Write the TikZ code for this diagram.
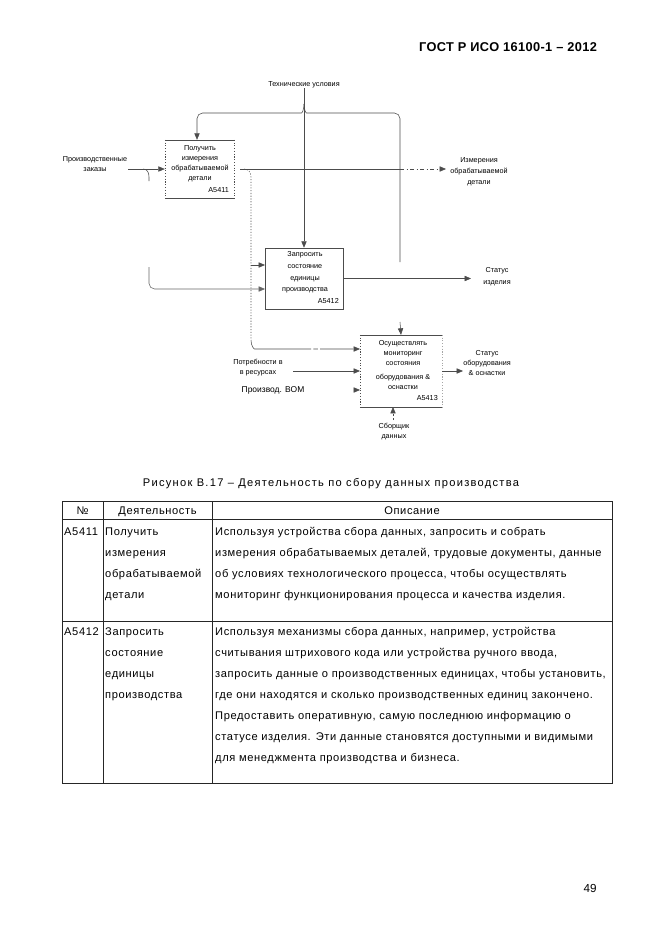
\documentclass[tikz,border=0pt]{standalone}
\usepackage{fontspec}
\setmainfont{Liberation Sans}
\usetikzlibrary{arrows.meta}
\begin{document}
\begin{tikzpicture}[x=0.9pt,y=-0.9pt]
            \tikzset{
              every node/.style={inner sep=0pt},
              lbl/.style={font=\fontsize{6.5}{9}\selectfont, align=center},
              ln/.style={draw=black!70, line width=0.5pt},
              tnl/.style={ln, dash pattern=on 1pt off 1.5pt},
              arr/.style={ln, rounded corners=5pt, -{Triangle[length=5.8pt,width=4.8pt]}},
              cell/.style={font=\fontsize{10}{12}\selectfont\addfontfeature{LetterSpace=5.5}, anchor=base west},
              grid/.style={draw=black!85, line width=0.7pt}
            }
            \useasboundingbox (0,0) rectangle (661,935);
            \node (hdr) [font=\fontsize{11.5}{13}\bfseries\addfontfeature{LetterSpace=3}] at (508,47) {ГОСТ Р ИСО 16100-1 – 2012};
            \node (pg) [font=\fontsize{10.5}{12}\selectfont] at (590,888) {49};
            \node (b1) [minimum width=62.1pt, minimum height=52.2pt] at (199.5,169) {};
            \draw [ln] (b1.north west) -- (b1.north east);
            \draw [ln] (b1.south west) -- (b1.south east);
            \draw [tnl] (b1.north west) -- (b1.south west);
            \draw [tnl] (b1.north east) -- (b1.south east);
            \node (t1) [lbl] at (200,163.5) {Получить\\измерения\\обрабатываемой\\детали};
            \node (n1) [lbl, anchor=east] at (229,190) {A5411};
            \node (b2) [minimum width=70.2pt, minimum height=54.9pt, ln] at (304,278.5) {};
            \node (t2) [lbl, font=\fontsize{6.5}{10.5}\selectfont] at (305,272.5) {Запросить\\состояние\\единицы\\производства};
            \node (n2) [lbl, anchor=east] at (339,301) {A5412};
            \node (b3) [minimum width=73.8pt, minimum height=64.8pt] at (401,371) {};
            \draw [ln] (b3.north west) -- (b3.north east);
            \draw [ln] (b3.south west) -- (b3.south east);
            \draw [tnl] (b3.north west) -- (b3.south west);
            \draw [tnl, draw=black!35] (b3.north east) -- (b3.south east);
            \node (t3) [lbl] at (403,365) {Осуществлять\\мониторинг\\состояния\\[3.6pt]оборудования \&\\оснастки};
            \node (n3) [lbl, anchor=east] at (438,398) {A5413};
            \node (tu) [lbl] at (304,85) {Технические условия};
            \node (zak) [lbl] at (95,164) {Производственные\\заказы};
            \node (izm) [lbl, font=\fontsize{6.5}{9.9}\selectfont] at (479,172) {Измерения\\обрабатываемой\\детали};
            \node (st1) [lbl, font=\fontsize{6.5}{10.8}\selectfont] at (497,277) {Статус\\изделия};
            \node (potr) [lbl] at (258,368) {Потребности в\\в ресурсах};
            \node (bom) [font=\fontsize{7.6}{9}\selectfont] at (273,390) {Производ. BOM};
            \node (st3) [lbl] at (487,363) {Статус\\оборудования\\\& оснастки};
            \node (sb) [lbl] at (394,432) {Сборщик\\данных};
            \coordinate (j1) at (304,104);
            \coordinate (zakE) at (128,169);
            \coordinate (b2i1) at (265,265);
            \coordinate (b2i2) at (265,289);
            \coordinate (b3t) at (400,322);
            \coordinate (b3i1) at (360,349);
            \coordinate (b3i2) at (360,371);
            \coordinate (b3i3) at (360,390);
            \coordinate (b3b) at (393,407);
            \coordinate (izmW) at (446,169);
            \coordinate (st1W) at (471,278.5);
            \coordinate (st3W) at (463,371);
            \draw [arr] (tu.south) -- (b2.north);
            \draw [arr] (j1) .. controls (304,110) and (302,113) .. (296,113) -- (197,113) -- (b1.north -| 197,0);
            \draw [ln, rounded corners=5pt] (j1) .. controls (304,110) and (306,113) .. (312,113) -- (400,113) -- (400,262);
            \draw [arr] (zakE) -- (b1.west);
            \draw [ln] (143,169) .. controls (147,169) and (149,172) .. (149,177) -- (149,181);
            \draw [arr, draw=black!60] (149,267) |- (b2i2);
            \draw [ln] (b1.east) ++(6,0) -- (400,169);
            \draw [arr, dash pattern=on 4pt off 2pt on 1pt off 2pt] (400,169) -- (izmW);
            \draw [tnl] (244,169) .. controls (248,169) and (251,172) .. (251,177) -- (251,340);
            \draw [arr, dash pattern=on 60pt off 2pt on 4pt off 2pt on 30pt] (251,340) .. controls (251,346) and (254,349) .. (260,349) -- (b3i1);
            \draw [arr] (251,265) -- (b2i1);
            \draw [arr] (b2.east) -- (st1W);
            \draw [arr] (b3t) -- (b3.north);
            \draw [arr] (293,371) -- (b3i2);
            \draw [arr] (354,390) -- (b3i3);
            \draw [arr] (b3.east) -- (st3W);
            \draw [arr, dash pattern=on 2pt off 1.5pt] (393,420) -- (b3b);
            \node (cap) [font=\fontsize{10}{12}\selectfont\addfontfeature{LetterSpace=11.5}] at (331,484) {Рисунок В.17 – Деятельность по сбору данных производства};
            \draw [grid] (62,501) rectangle (612,783);
            \draw [grid] (103,501) -- (103,783);
            \draw [grid] (212,501) -- (212,783);
            \draw [grid] (62,519) -- (612,519);
            \draw [grid] (62,621) -- (612,621);
            \node (h1) [cell, anchor=base] at (82.5,514) {№};
            \node (h2) [cell, anchor=base] at (157.5,514) {Деятельность};
            \node (h3) [cell, anchor=base] at (412,514) {Описание};
            \node (a1) [cell] at (64,535) {A5411};
            \node (a2) [cell] at (64,635) {A5412};
            \node (p1) [cell] at (105,535) {Получить};
            \node (p2) [cell] at (105,556) {измерения};
            \node (p3) [cell] at (105,577) {обрабатываемой};
            \node (p4) [cell] at (105,598) {детали};
            \node (q1) [cell] at (105,635) {Запросить};
            \node (q2) [cell] at (105,656) {состояние};
            \node (q3) [cell] at (105,677) {единицы};
            \node (q4) [cell] at (105,698) {производства};
            \node (d1) [cell] at (215,535) {Используя устройства сбора данных, запросить и собрать};
            \node (d2) [cell] at (215,556) {измерения обрабатываемых деталей, трудовые документы, данные};
            \node (d3) [cell] at (215,577) {об условиях технологического процесса, чтобы осуществлять};
            \node (d4) [cell] at (215,598) {мониторинг функционирования процесса и качества изделия.};
            \node (e1) [cell] at (215,635) {Используя механизмы сбора данных, например, устройства};
            \node (e2) [cell] at (215,656) {считывания штрихового кода или устройства ручного ввода,};
            \node (e3) [cell] at (215,677) {запросить данные о производственных единицах, чтобы установить,};
            \node (e4) [cell] at (215,698) {где они находятся и сколько производственных единиц закончено.};
            \node (e5) [cell] at (215,719) {Предоставить оперативную, самую последнюю информацию о};
            \node (e6) [cell] at (215,740) {статусе изделия. Эти данные становятся доступными и видимыми};
            \node (e7) [cell] at (215,761) {для менеджмента производства и бизнеса.};
        \end{tikzpicture}
\end{document}
